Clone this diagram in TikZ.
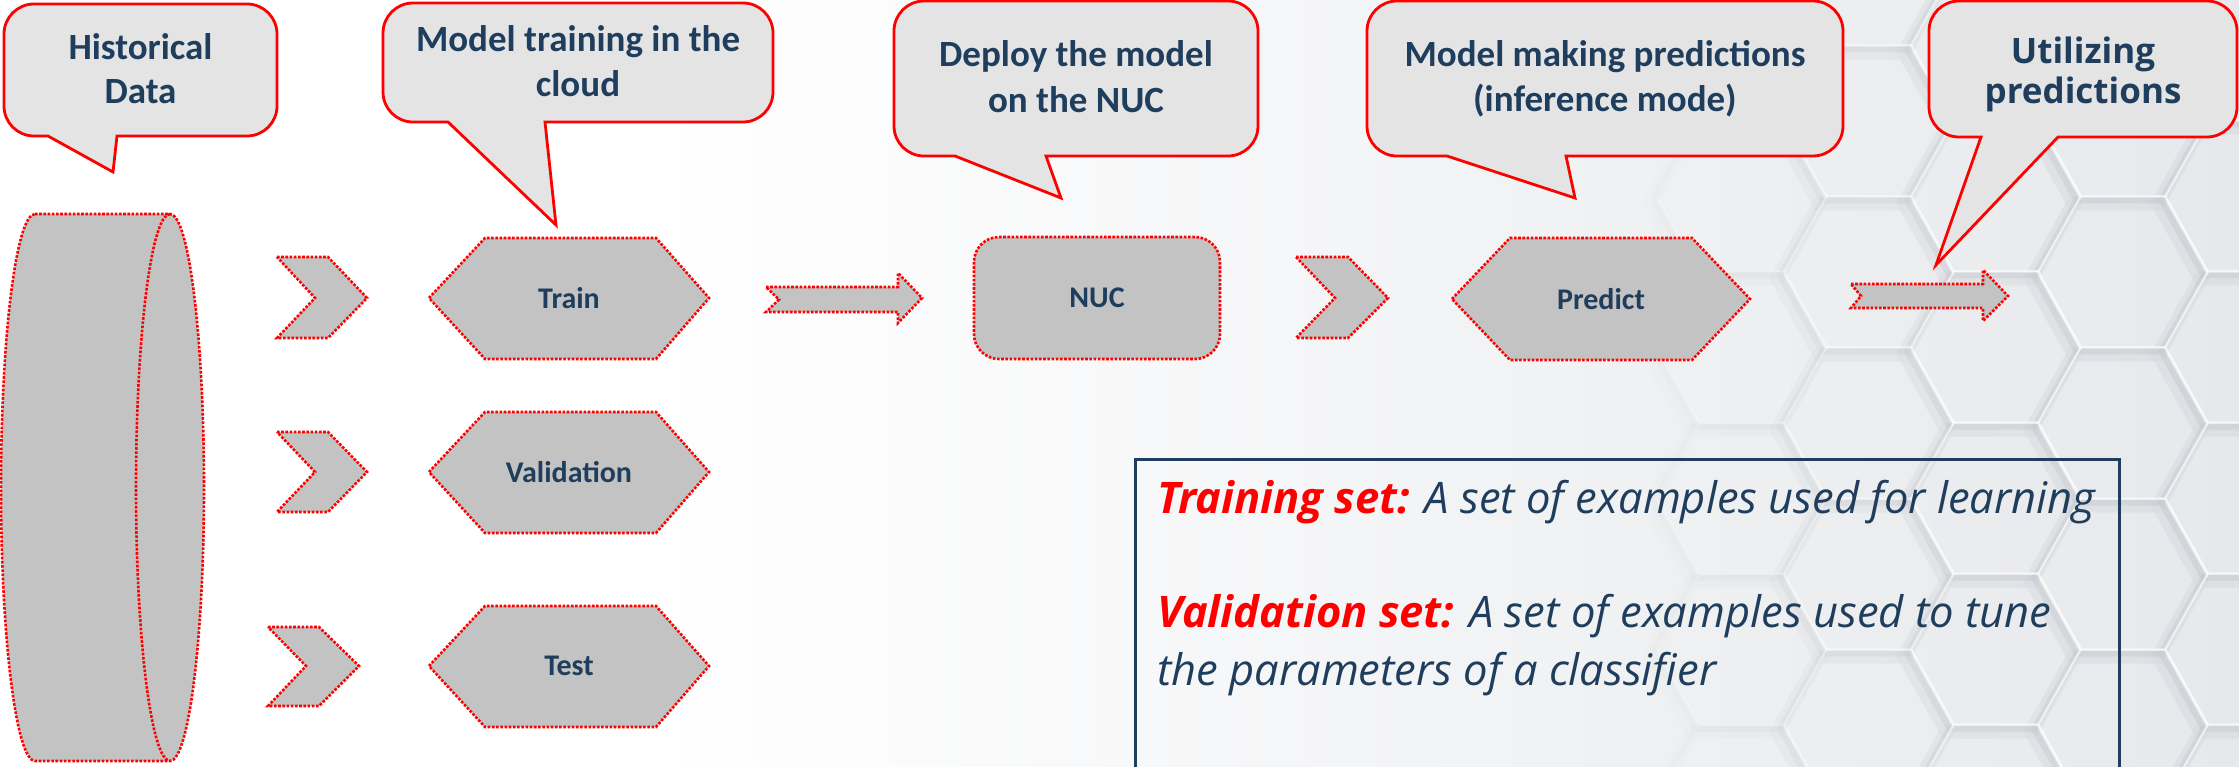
\documentclass[tikz,border=0pt]{standalone}
\usepackage{fontspec}
\setmainfont{Carlito}
\newfontfamily\opensans{Open Sans}

\definecolor{txtBlue}{HTML}{1F3D5C}
\definecolor{alertRed}{HTML}{FF0000}
\definecolor{calloutFill}{HTML}{E4E4E4}
\definecolor{shapeGray}{HTML}{C3C3C3}
\definecolor{bgGray}{HTML}{E6E8EB}
\definecolor{hexShade}{HTML}{A9AFB6}

\newcommand\setlabel[1]{\textcolor{alertRed}{\bfseries #1}}
% outline of one honeycomb cell centred on (\cx,\cy)
\def\hexpath{({\cx+85},\cy) -- ({\cx+42.5},{\cy-75.5}) -- ({\cx-42.5},{\cy-75.5})
  -- ({\cx-85},\cy) -- ({\cx-42.5},{\cy+75.5}) -- ({\cx+42.5},{\cy+75.5}) -- cycle}

\begin{document}
\begin{tikzpicture}[x=1pt,y=-1pt,
  callout/.style={draw=alertRed, fill=calloutFill, line width=2.8pt, line join=miter},
  dotshape/.style={draw=alertRed, fill=shapeGray, line width=2.6pt, dash pattern=on 2.6pt off 1.6pt},
  shapelabel/.style={font=\fontsize{30}{36}\selectfont\bfseries, text=txtBlue, inner sep=0pt},
  callouttext/.style={font=\fontsize{37}{44}\selectfont\bfseries, text=txtBlue, anchor=base, inner sep=0pt},
  utiltext/.style={font=\opensans\fontsize{35}{42}\selectfont\bfseries, text=txtBlue, anchor=base, inner sep=0pt},
  settext/.style={font=\opensans\itshape\fontsize{43.5}{52}\selectfont, text=txtBlue, anchor=base west, inner sep=0pt}]

\useasboundingbox (0,0) rectangle (2239,767);
\clip (0,0) rectangle (2239,767);

% background: white fading to light grey on the right
\fill[white] (0,0) rectangle (2239,767);
\shade[left color=white, right color=bgGray] (650,0) rectangle (2239,767);

% embossed honeycomb pattern, fading out towards the left
\foreach \k in {0,...,5}{
  \pgfmathsetmacro{\cx}{2249-127*\k}
  \pgfmathsetmacro{\yo}{iseven(\k) ? -105 : -29}
  \pgfmathsetmacro{\op}{max(0,min(1,(\cx-1640)/320))}
  \foreach \j in {0,...,6}{
    \pgfmathsetmacro{\cy}{\yo+151*\j}
    \draw[hexShade, line width=14pt, opacity=0.07*\op, shift={(-6,6)}] \hexpath;
    \draw[hexShade, line width=6pt, opacity=0.11*\op, shift={(-3,3)}] \hexpath;
    \draw[white, line width=2pt, opacity=0.55*\op, shift={(1,-1)}] \hexpath;
  }
}

% ---------- callouts ----------
\draw[callout] (34,4) -- (247,4) arc(-90:0:30) -- (277,106) arc(0:90:30)
  -- (117,136) -- (113,172) -- (48,136) -- (34,136) arc(90:180:30) -- (4,34) arc(180:270:30) -- cycle;
\node[callouttext] (c1a) at (140.5,60) {Historical};
\node[callouttext] (c1b) at (140.5,104) {Data};

\draw[callout] (413,3) -- (743,3) arc(-90:0:30) -- (773,92) arc(0:90:30)
  -- (545,122) -- (556,225) -- (448,122) -- (413,122) arc(90:180:30) -- (383,33) arc(180:270:30) -- cycle;
\node[callouttext] (c2a) at (578,52) {Model training in the};
\node[callouttext] (c2b) at (578,97) {cloud};

\draw[callout] (924,1) -- (1228,1) arc(-90:0:30) -- (1258,126) arc(0:90:30)
  -- (1046,156) -- (1061,198) -- (955,156) -- (924,156) arc(90:180:30) -- (894,31) arc(180:270:30) -- cycle;
\node[callouttext] (c3a) at (1076,67) {Deploy the model};
\node[callouttext] (c3b) at (1076,113) {on the NUC};

\draw[callout] (1397,1) -- (1813,1) arc(-90:0:30) -- (1843,126) arc(0:90:30)
  -- (1566,156) -- (1575,198) -- (1447,156) -- (1397,156) arc(90:180:30) -- (1367,31) arc(180:270:30) -- cycle;
\node[callouttext] (c4a) at (1605,67) {Model making predictions};
\node[callouttext] (c4b) at (1605,112) {(inference mode)};

\draw[callout] (1959,1) -- (2207,1) arc(-90:0:30) -- (2237,107) arc(0:90:30)
  -- (2058,137) -- (1936,265) -- (1981,137) -- (1959,137) arc(90:180:30) -- (1929,31) arc(180:270:30) -- cycle;
\node[utiltext] (c5a) at (2083,64) {Utilizing};
\node[utiltext] (c5b) at (2083,104) {predictions};

% ---------- data store ----------
\draw[dotshape] (35,214) -- (170,214) arc(-90:90:34 and 273.5) -- (35,761) arc(90:270:34 and 273.5) -- cycle;
\draw[dotshape, fill=none] (170,214) arc(270:90:34 and 273.5);

% ---------- chevrons ----------
\draw[dotshape] (277,257) -- (328,257) -- (367,298) -- (328,338) -- (277,338) -- (315,298) -- cycle;
\draw[dotshape] (277,432) -- (328,432) -- (367,472) -- (328,512) -- (277,512) -- (315,472) -- cycle;
\draw[dotshape] (268,627) -- (319,627) -- (359,666) -- (319,706) -- (268,706) -- (306,666) -- cycle;
\draw[dotshape] (1296,257) -- (1348,257) -- (1388,298) -- (1348,338) -- (1296,338) -- (1335,298) -- cycle;

% ---------- hexagons ----------
\draw[dotshape] (429,298) -- (485,238) -- (656,238) -- (709,298) -- (656,359) -- (485,359) -- cycle;
\node[shapelabel] (train) at (569,298) {Train};
\draw[dotshape] (429,472) -- (485,412) -- (656,412) -- (709,472) -- (656,533) -- (485,533) -- cycle;
\node[shapelabel] (valid) at (569,472) {Validation};
\draw[dotshape] (429,666) -- (485,606) -- (656,606) -- (709,666) -- (656,727) -- (485,727) -- cycle;
\node[shapelabel] (test) at (569,666) {Test};
\draw[dotshape] (1452,299) -- (1510,238) -- (1692,238) -- (1750,299) -- (1692,360) -- (1510,360) -- cycle;
\node[shapelabel] (predict) at (1601,299) {Predict};

% ---------- NUC ----------
\draw[dotshape, rounded corners=25pt] (974,237) rectangle (1220,359);
\node[shapelabel] (nuc) at (1097,298) {NUC};

% ---------- block arrows ----------
\draw[dotshape] (766,287) -- (898,287) -- (898,273) -- (922,298) -- (898,323) -- (898,312) -- (766,312) -- (779,299.5) -- cycle;
\draw[dotshape] (1851,284) -- (1983,284) -- (1983,270) -- (2008,296) -- (1983,321) -- (1983,308) -- (1851,308) -- (1861,296) -- cycle;

% ---------- definitions box ----------
\draw[txtBlue, line width=3pt] (1135,459) rectangle (2119,800);
\node[settext] (tset) at (1157,513) {\setlabel{Training set:} A set of examples used for learning};
\node[settext] (vset) at (1157,627) {\setlabel{Validation set:} A set of examples used to tune};
\node[settext] (vset2) at (1157,685) {the parameters of a classifier};

\end{tikzpicture}
\end{document}
